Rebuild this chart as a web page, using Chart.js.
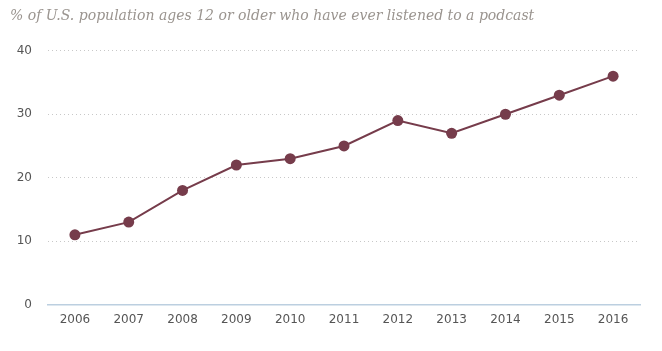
<!DOCTYPE html>
<html>
<head>
<meta charset="utf-8">
<script src="https://cdn.jsdelivr.net/npm/chart.js@4/dist/chart.umd.min.js"></script>
<style>
  html, body { margin: 0; padding: 0; background: #fff; }
  #wrap { width: 662px; height: 351px; position: relative; }
</style>
</head>
<body>
<div id="wrap"><canvas id="chart"></canvas></div>
<script>
// podcast listenership, share of 12+ population
const years = ['2006','2007','2008','2009','2010','2011','2012','2013','2014','2015','2016'];
const everListened = [11, 13, 18, 22, 23, 25, 29, 27, 30, 33, 36];
const yTicks = [0, 10, 20, 30, 40];

const LINE = '#763c4b';

new Chart(document.getElementById('chart'), {
  type: 'line',
  data: {
    labels: years,
    datasets: [{
      data: everListened,
      borderColor: LINE,
      backgroundColor: LINE,
      borderWidth: 2,
      pointRadius: 5.5,
      pointHoverRadius: 5.5,
      pointBorderWidth: 0,
      tension: 0
    }]
  },
  options: {
    responsive: true,
    maintainAspectRatio: false,
    animation: false,
    layout: { padding: { left: 10, right: 22, top: 0, bottom: 24 } },
    plugins: {
      legend: { display: false },
      tooltip: { enabled: false },
      title: {
        display: true,
        text: '% of U.S. population ages 12 or older who have ever listened to a podcast',
        align: 'start',
        color: '#9a948f',
        font: { family: 'DejaVu Serif', style: 'italic', weight: 'normal', size: 14 },
        padding: { top: 8, bottom: 26 }
      }
    },
    scales: {
      x: {
        offset: true,
        grid: { display: false },
        border: { color: '#bccfe0', width: 1.5 },
        ticks: { color: '#555', font: { family: 'DejaVu Sans', size: 12 }, padding: 0 }
      },
      y: {
        min: 0,
        max: 40,
        afterBuildTicks: axis => { axis.ticks = yTicks.map(v => ({ value: v })); },
        afterFit: axis => { axis.width = 38; },
        grid: {
          color: ctx => ctx.tick && ctx.tick.value === 0 ? 'rgba(0,0,0,0)' : '#c8c8c8',
          drawTicks: false
        },
        border: { display: false, dash: [1, 3] },
        ticks: { color: '#555', font: { family: 'DejaVu Sans', size: 12 }, padding: 16 }
      }
    }
  }
});
</script>
</body>
</html>
